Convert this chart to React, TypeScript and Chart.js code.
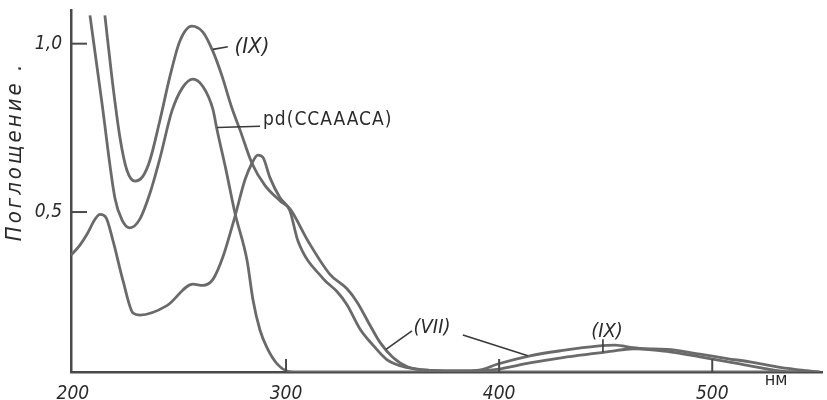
import { useEffect, useRef } from "react";
import { Chart, registerables } from "chart.js";

Chart.register(...registerables);

// ---- data (wavelength in nm, absorbance) ----
const xTicks = [200, 300, 400, 500];
const yTicks = [0.5, 1.0];
const yTickLabels = ["0,5", "1,0"];

const pdWavelength = [208, 213.6, 219.7, 223, 226.7, 231.4, 236.1, 240.8, 246.5, 251.6, 256.3, 261, 265.7, 267.6, 271.8, 276, 281.7, 284.5, 287.8, 291, 295.7, 301.8, 311.2, 360, 420, 480, 550];
const pdAbsorbance = [1.084, 0.825, 0.542, 0.477, 0.453, 0.479, 0.555, 0.659, 0.801, 0.871, 0.895, 0.873, 0.805, 0.745, 0.626, 0.498, 0.357, 0.239, 0.149, 0.098, 0.05, 0.026, 0.025, 0.025, 0.025, 0.025, 0.025];

const ixWavelength = [215, 218.3, 222.1, 225.3, 229.1, 232.8, 236.1, 240.8, 245.5, 250.2, 255.8, 261, 265.7, 269.9, 274.6, 278.4, 284, 290.1, 297.1, 301.8, 310.3, 320.6, 328.6, 333.3, 339.4, 344.1, 350.2, 357.2, 367.5, 384, 392.4, 399, 414.4, 429.9, 445.9, 452, 462.8, 478.7, 494.2, 506.9, 517.7, 531.8, 544.4, 550.5];
const ixAbsorbance = [1.084, 0.899, 0.72, 0.625, 0.592, 0.606, 0.653, 0.772, 0.902, 1.008, 1.052, 1.034, 0.977, 0.905, 0.809, 0.744, 0.645, 0.579, 0.534, 0.51, 0.414, 0.315, 0.272, 0.233, 0.164, 0.113, 0.068, 0.04, 0.03, 0.028, 0.03, 0.033, 0.052, 0.068, 0.081, 0.086, 0.094, 0.092, 0.078, 0.065, 0.055, 0.039, 0.029, 0.025];

const viiWavelength = [199.1, 203.3, 206.6, 210.3, 212.7, 215.5, 218.8, 223.5, 228.2, 231.4, 244.1, 256.3, 261, 265.7, 270.4, 276, 280.7, 284, 286.8, 289.2, 292.4, 297.1, 301.8, 305.6, 317.3, 323.9, 328.6, 334.7, 340.8, 347.3, 353.4, 367.5, 384, 392.4, 399, 414.5, 429.9, 445.9, 454.3, 462.8, 478.7, 494.2, 506.9, 517.7, 535.1, 544.4];
const viiAbsorbance = [0.372, 0.402, 0.434, 0.478, 0.493, 0.484, 0.415, 0.296, 0.2, 0.194, 0.222, 0.286, 0.282, 0.3, 0.367, 0.486, 0.595, 0.645, 0.669, 0.662, 0.603, 0.543, 0.504, 0.414, 0.303, 0.264, 0.225, 0.153, 0.105, 0.062, 0.044, 0.03, 0.028, 0.033, 0.048, 0.073, 0.089, 0.102, 0.105, 0.097, 0.086, 0.07, 0.056, 0.043, 0.026, 0.025];

const FONT = "'DejaVu Sans Condensed', 'DejaVu Sans', sans-serif";
const LINE = "#6a6a6a";
const AXIS = "#4a4a4a";
const INK = "#2a2a2a";

const annotationPlugin = {
  id: "annotations",
  afterDraw(chart: any) {
    const { ctx, chartArea } = chart;
    const xs = chart.scales.x;
    const ys = chart.scales.y;
    const X = (v: number) => xs.getPixelForValue(v);
    const Y = (v: number) => ys.getPixelForValue(v);
    const line = (x1: number, y1: number, x2: number, y2: number) => {
      ctx.beginPath();
      ctx.moveTo(x1, y1);
      ctx.lineTo(x2, y2);
      ctx.stroke();
    };
    const spacing = (v: string) => {
      try { (ctx as any).letterSpacing = v; } catch (e) {}
    };
    ctx.save();
    // inner tick marks
    ctx.strokeStyle = AXIS;
    ctx.lineWidth = 2;
    yTicks.forEach((v) => line(chartArea.left, Y(v), chartArea.left + 16, Y(v)));
    xTicks.slice(1).forEach((v) => line(X(v), chartArea.bottom, X(v), chartArea.bottom - 13));

    // leader lines
    ctx.strokeStyle = "#3a3a3a";
    ctx.lineWidth = 1.6;
    line(X(265.7), Y(0.983), X(272.7), Y(0.991));
    line(X(267.6), Y(0.751), X(287.8), Y(0.755));
    line(X(359.1), Y(0.147), X(346.9), Y(0.092));
    line(X(383.0), Y(0.135), X(413.5), Y(0.073));
    line(X(448.7), Y(0.122), X(448.7), Y(0.084));

    // texts
    ctx.fillStyle = INK;
    ctx.textBaseline = "middle";
    ctx.textAlign = "center";
    ctx.font = `italic 22px ${FONT}`;
    ctx.fillText("(IX)", X(284.0), Y(0.99));
    ctx.font = `italic 20px ${FONT}`;
    ctx.fillText("(VII)", X(368.5), Y(0.155));
    ctx.fillText("(IX)", X(450.6), Y(0.143));
    ctx.font = `18px ${FONT}`;
    ctx.fillText("нм", X(530), chartArea.bottom + 8);
    ctx.textAlign = "left";
    ctx.font = `19px ${FONT}`;
    spacing("1px");
    ctx.fillText("pd(CCAAACA)", X(289.2), Y(0.772));
    spacing("0px");

    // y axis title
    ctx.save();
    ctx.translate(chartArea.left - 56, Y(0.68));
    ctx.rotate(-Math.PI / 2);
    ctx.textAlign = "center";
    ctx.font = `italic 22px ${FONT}`;
    spacing("3px");
    ctx.fillText("Поглощение .", 0, 0);
    ctx.restore();
    ctx.restore();
  },
};

export default function App() {
  const ref = useRef<HTMLCanvasElement>(null);
  useEffect(() => {
    document.body.style.margin = "0";
    const toPts = (xsArr: number[], ysArr: number[]) => xsArr.map((v, i) => ({ x: v, y: ysArr[i] }));
    const ds = (label: string, xsArr: number[], ysArr: number[]) => ({
      label,
      data: toPts(xsArr, ysArr),
      borderColor: LINE,
      borderWidth: 2.8,
      pointRadius: 0,
      fill: false,
      cubicInterpolationMode: "monotone" as const,
    });
    const chart = new Chart(ref.current!, {
      type: "line",
      data: {
        datasets: [
          ds("pd(CCAAACA)", pdWavelength, pdAbsorbance),
          ds("(IX)", ixWavelength, ixAbsorbance),
          ds("(VII)", viiWavelength, viiAbsorbance),
        ],
      },
      options: {
        animation: false,
        responsive: false,
        layout: { padding: { top: 10, right: 5, left: 0, bottom: 0 } },
        plugins: { legend: { display: false }, tooltip: { enabled: false } },
        scales: {
          x: {
            type: "linear",
            min: 199.1,
            max: 551.5,
            grid: { display: false },
            border: { display: true, color: AXIS, width: 2.5 },
            afterBuildTicks: (s: any) => {
              s.ticks = xTicks.map((value) => ({ value }));
            },
            afterFit: (s: any) => {
              s.height = 28;
              s.paddingLeft = 0;
              s.paddingRight = 0;
            },
            ticks: {
              color: INK,
              font: { family: FONT, size: 19, style: "italic" },
              padding: 3,
              autoSkip: false,
              maxRotation: 0,
              callback: (v: any) => String(v),
            },
          },
          y: {
            type: "linear",
            min: 0.025,
            max: 1.1,
            grid: { display: false },
            border: { display: true, color: AXIS, width: 2.5 },
            afterBuildTicks: (s: any) => {
              s.ticks = yTicks.map((value) => ({ value }));
            },
            afterFit: (s: any) => {
              s.width = 71;
              s.paddingTop = 0;
              s.paddingBottom = 0;
            },
            ticks: {
              color: INK,
              font: { family: FONT, size: 19, style: "italic" },
              padding: 1,
              callback: (v: any) => {
                const i = yTicks.indexOf(Number(v));
                return i >= 0 ? yTickLabels[i] : "";
              },
            },
          },
        },
      },
      plugins: [annotationPlugin],
    });
    return () => chart.destroy();
  }, []);
  return (
    <div style={{ width: 827, height: 400, background: "#fff" }}>
      <canvas ref={ref} width={827} height={400} style={{ display: "block" }} />
    </div>
  );
}
